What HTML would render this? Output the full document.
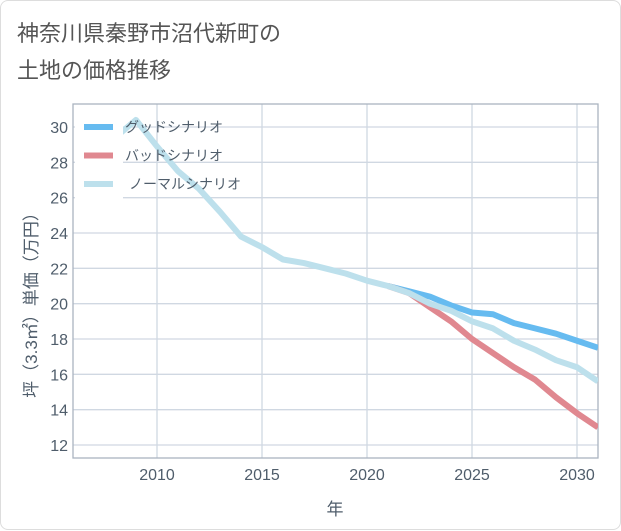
<!DOCTYPE html>
<html><head><meta charset="utf-8"><style>
body{margin:0;background:#fff;}
#card{position:relative;width:619px;height:528px;border:1px solid #ddd;border-radius:8px;background:#fff;font-family:"Liberation Sans","Noto Sans CJK JP",sans-serif;}
#title{position:absolute;left:16px;top:14px;font-size:22px;line-height:37px;color:#555;}
svg{position:absolute;left:0;top:0;}
</style></head><body>
<div id="card">
<div id="title">神奈川県秦野市沼代新町の<br>土地の価格推移</div>
<svg id="chart" width="621" height="530"></svg>
</div>
<script>
const yearsNormal=[2008,2009,2010,2011,2012,2013,2014,2015,2016,2017,2018,2019,2020,2021,2022,2023,2024,2025,2026,2027,2028,2029,2030,2031];
const normal=[29.4,30.4,28.9,27.5,26.5,25.2,23.8,23.2,22.5,22.3,22.0,21.7,21.3,21.0,20.6,20.0,19.6,19.0,18.6,17.9,17.4,16.8,16.4,15.6];
const yearsScen=[2021,2022,2023,2024,2025,2026,2027,2028,2029,2030,2031];
const good=[21.0,20.7,20.4,19.9,19.5,19.4,18.9,18.6,18.3,17.9,17.5];
const bad=[21.0,20.6,19.8,19.0,18.0,17.2,16.4,15.7,14.7,13.8,13.0];
const xTicks=[2010,2015,2020,2025,2030];
const yTicks=[12,14,16,18,20,22,24,26,28,30];
const legendLabels=["グッドシナリオ","バッドシナリオ","ノーマルシナリオ"];
const colors=["#66bbf0","#e08890","#bde0ec"];
const NS="http://www.w3.org/2000/svg";
const svg=document.getElementById('chart');
const L=72,R=597,T=103,B=457;
const x=v=>156+(v-2010)*21;
const y=v=>126+(30-v)*(318/18);
function mk(t,a,p){const e=document.createElementNS(NS,t);for(const k in a)e.setAttribute(k,a[k]);(p||svg).appendChild(e);return e;}
for(const t of xTicks){
 const l=mk('line',{x1:x(t),x2:x(t),y1:T,y2:B,stroke:'#d0d8e2','stroke-width':1.3});
 
 
 const tx=mk('text',{x:x(t),y:B+22,'text-anchor':'middle','font-size':16,fill:'#4f5d6b'});tx.textContent=t;
 
 
}
for(const t of yTicks){
 const l=mk('line',{x1:L,x2:R,y1:y(t),y2:y(t),stroke:'#d0d8e2','stroke-width':1.3});
 
 
 const tx=mk('text',{x:L-5,y:y(t)+6,'text-anchor':'end','font-size':16,fill:'#4f5d6b'});tx.textContent=t;
 
 
}
const frame=mk('rect',{x:L,y:T,width:R-L,height:B-T,fill:'none',stroke:'#aab4c0','stroke-width':1.3});


function line(xs,vs,c,name){
 const p=mk('polyline',{points:xs.map((v,i)=>x(v)+','+y(vs[i])).join(' '),fill:'none',stroke:c,'stroke-width':6,'stroke-linejoin':'round'});
 
 
}
const cp=mk('clipPath',{id:'cp'});mk('rect',{x:L,y:T,width:R-L,height:B-T},cp);
line(yearsScen,good,colors[0],'good-scenario-line');
line(yearsScen,bad,colors[1],'bad-scenario-line');
line(yearsNormal,normal,colors[2],'normal-scenario-line');
svg.querySelectorAll('polyline').forEach(p=>p.setAttribute('clip-path','url(#cp)'));
const lg=mk('rect',{x:74,y:108,width:48,height:90,fill:'#fff'});


legendLabels.forEach((s,i)=>{
 const yy=126+i*28.5;
 const sw=mk('line',{x1:83,x2:112,y1:yy,y2:yy,stroke:colors[i],'stroke-width':6});
 
 
 const tx=mk('text',{x:i==2?128:124,y:yy+5,'font-size':14,fill:'#4f5d6b'});tx.textContent=s;
 
 
});
const xt=mk('text',{x:334,y:514,'text-anchor':'middle','font-size':17,fill:'#4f5d6b'});xt.textContent='年';


const yt=mk('text',{x:0,y:0,'text-anchor':'middle','font-size':17,fill:'#4f5d6b',transform:'translate(36,300) rotate(-90)'});yt.textContent='坪（3.3㎡）単価（万円）';


</script>
</body></html>
